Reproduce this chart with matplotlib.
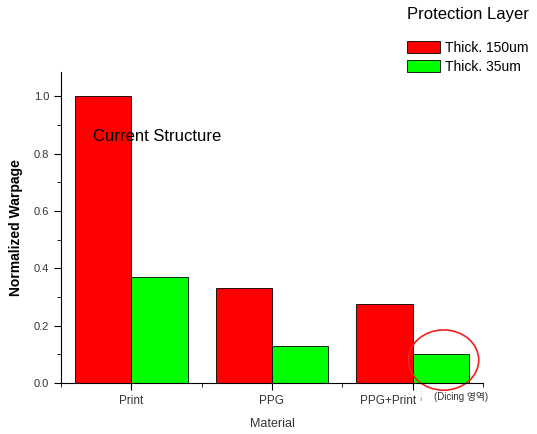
import numpy as np
import matplotlib.pyplot as plt
import matplotlib.transforms as mtransforms
from matplotlib.patches import Ellipse, Patch
from matplotlib.ticker import MultipleLocator

plt.rcParams['font.family'] = ['Liberation Sans', 'Noto Sans CJK KR', 'DejaVu Sans']

materials = ["Print", "PPG", "PPG+Print"]
thick150 = [1.0, 0.33, 0.275]
thick35 = [0.37, 0.13, 0.10]
series_names = ["Thick. 150um", "Thick. 35um"]

fig = plt.figure(figsize=(5.37, 4.34), dpi=100)
ax = fig.add_axes([0.1136, 0.1175, 0.7858, 0.7165])

x = np.arange(len(materials))
w = 0.4
ax.bar(x - w / 2, thick150, w, color="#ff0000", edgecolor="black", linewidth=0.6)
ax.bar(x + w / 2, thick35, w, color="#00ff00", edgecolor="black", linewidth=0.6)

ax.set_xlim(-0.5, 2.5)
ax.set_ylim(0, 1.084)
ax.set_xticks(x)
ax.set_xticklabels(materials, fontsize=8.5, color="#333333")
ax.set_xticks([-0.5, 0.5, 1.5, 2.5], minor=True)
ax.yaxis.set_major_locator(MultipleLocator(0.2))
ax.yaxis.set_minor_locator(MultipleLocator(0.1))
ax.yaxis.set_major_formatter(lambda v, p: f"{v:.1f}")
ax.tick_params(axis="y", labelsize=8, colors="black", labelcolor="#333333")
ax.tick_params(which="major", length=5, direction="out")
ax.tick_params(which="minor", length=3, direction="out")
for s in ["top", "right"]:
    ax.spines[s].set_visible(False)

# last category label sits a bit left of its tick
lbl = ax.get_xticklabels()[2]
lbl.set_transform(lbl.get_transform() + mtransforms.ScaledTranslation(-0.25, 0, fig.dpi_scale_trans))

ax.set_xlabel("Material", fontsize=9, color="#333333", labelpad=8)
ax.set_ylabel("Normalized Warpage", fontsize=10, fontweight="bold", labelpad=8)

ax.text(-0.27, 0.86, "Current Structure", fontsize=12, ha="left", va="center")
ax.text(2.15, -0.05, "(Dicing 영역)", fontsize=7, ha="left", va="center", color="#333333")
ax.text(2.045, -0.058, "ı", fontsize=6, color="#888888", ha="left", va="center")

ell = Ellipse((2.22, 0.08), 0.5, 0.21, fill=False, edgecolor="#ee2222",
              linewidth=1.2, clip_on=False)
ax.add_patch(ell)

fig.text(0.758, 0.966, "Protection Layer", fontsize=12, ha="left", va="center")
handles = [Patch(facecolor="#ff0000", edgecolor="black", linewidth=0.6),
           Patch(facecolor="#00ff00", edgecolor="black", linewidth=0.6)]
fig.legend(handles, series_names, loc="upper left", bbox_to_anchor=(0.758, 0.906),
           frameon=False, fontsize=10, handlelength=2.4, handleheight=1.0,
           handletextpad=0.35, labelspacing=0.35, borderaxespad=0, borderpad=0)

fig.savefig("out.png", dpi=100)
